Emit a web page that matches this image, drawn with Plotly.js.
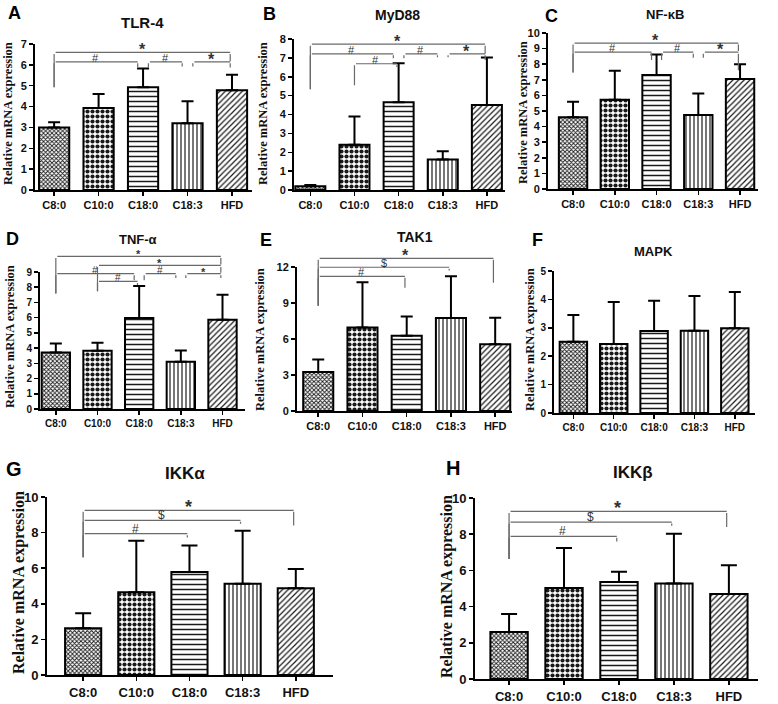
<!DOCTYPE html>
<html><head><meta charset="utf-8">
<script src="https://cdn.plot.ly/plotly-3.0.1.min.js"></script>
<style>html,body{margin:0;padding:0;background:#fff}#c{width:778px;height:704px}</style>
</head><body><div id="c"></div>
<script>
// ---------- data ----------
const categories = ['C8:0','C10:0','C18:0','C18:3','HFD'];

const tlr4Mean  = [3.00, 3.93, 4.93, 3.20, 4.78];
const tlr4Err   = [0.25, 0.67, 0.90, 1.05, 0.74];
const myd88Mean = [0.20, 2.40, 4.65, 1.62, 4.50];
const myd88Err  = [0.06, 1.50, 2.07, 0.43, 2.52];
const nfkbMean  = [4.60, 5.72, 7.30, 4.75, 7.05];
const nfkbErr   = [1.00, 1.86, 1.32, 1.37, 0.95];
const tnfMean   = [3.71, 3.82, 5.98, 3.10, 5.87];
const tnfErr    = [0.59, 0.53, 2.10, 0.74, 1.64];
const tak1Mean  = [3.26, 6.96, 6.28, 7.74, 5.57];
const tak1Err   = [1.03, 3.77, 1.60, 3.48, 2.20];
const mapkMean  = [2.51, 2.43, 2.89, 2.90, 2.98];
const mapkErr   = [0.94, 1.48, 1.06, 1.22, 1.28];
const ikkaMean  = [2.63, 4.65, 5.78, 5.12, 4.88];
const ikkaErr   = [0.84, 2.89, 1.50, 2.98, 1.07];
const ikkbMean  = [2.60, 5.03, 5.36, 5.27, 4.70];
const ikkbErr   = [0.99, 2.21, 0.57, 2.76, 1.58];

// significance brackets: [fromIndex, toIndex, level, symbol, leftLegBottom, rightLegBottom]
const tlr4Sig  = [[0,4,6.63,'*',4.95,6.2],[0,2,6.18,'#',4.95,5.9],[2,3,6.18,'#',5.9,5.95],[3,4,6.18,'*',5.95,5.9]];
const myd88Sig = [[0,4,7.97,'*',5.5,7.45],[0,2,7.44,'#',5.5,7.2],[1,2,6.9,'#',5.73,6.72],[2,3,7.44,'#',7.2,7.25],[3,4,7.44,'*',7.25,7.1]];
const nfkbSig  = [[0,4,9.95,'*',7.95,9.4],[0,2,9.33,'#',7.95,8.8],[2,3,9.33,'#',8.8,8.95],[3,4,9.33,'*',8.95,8.1]];
const tnfSig   = [[0,4,10.02,'*',7.58,9.5],[1,4,9.43,'*',7.73,8.95],[0,2,8.89,'#',7.58,8.45],[1,2,8.38,'#',7.73,8.15],[2,3,8.89,'#',8.45,8.6],[3,4,8.89,'*',8.6,8.6]];
const tak1Sig  = [[0,4,12.72,'*',8.78,10.68],[0,3,11.98,'$',8.78,11.7],[0,2,11.22,'#',8.78,10.27]];
const mapkSig  = [];
const ikkaSig  = [[0,4,9.25,'*',6.62,8.4],[0,3,8.69,'$',6.62,8.5],[0,2,7.94,'#',6.62,7.73]];
const ikkbSig  = [[0,4,9.26,'*',6.63,8.4],[0,3,8.67,'$',6.63,8.47],[0,2,7.88,'#',6.63,7.6]];

// ---------- layout / styling ----------
const W = 778, H = 704;
const SANS = 'Liberation Sans, Arial, sans-serif';
const SERIF = 'Liberation Serif, Times New Roman, serif';

const panels = [
  {letter:'A', title:'TLR-4',  mean:tlr4Mean,  err:tlr4Err,  sig:tlr4Sig,  ymax:7,  dtick:1, L:35,  R:252, T:44,  B:190, xr:[-0.43,4.45], ttl:[142,22], let:[14,13],  yt:[8,114],   fs:11, tfs:15, yfs:12.5, sfs:16, hfs:11},
  {letter:'B', title:'MyD88',  mean:myd88Mean, err:myd88Err, sig:myd88Sig, ymax:8,  dtick:1, L:294, R:505, T:39,  B:190, xr:[-0.37,4.41], ttl:[398,15], let:[269,14], yt:[263,114], fs:11, tfs:14, yfs:12.5, sfs:16, hfs:11},
  {letter:'C', title:'NF-\u03baB', mean:nfkbMean, err:nfkbErr, sig:nfkbSig, ymax:10, dtick:1, L:548, R:758, T:33,  B:189, xr:[-0.6,4.43],  ttl:[665,14], let:[551,16], yt:[523,113], fs:11, tfs:13, yfs:12.5, sfs:16, hfs:11},
  {letter:'D', title:'TNF-\u03b1', mean:tnfMean, err:tnfErr, sig:tnfSig,   ymax:9,  dtick:1, L:40,  R:245, T:272, B:409, xr:[-0.38,4.54], ttl:[138,239], let:[12,239], yt:[10,337], fs:10, tfs:13, yfs:12.5, sfs:11, hfs:10},
  {letter:'E', title:'TAK1',   mean:tak1Mean,  err:tak1Err,  sig:tak1Sig,  ymax:12, dtick:3, L:297, R:512, T:267, B:411, xr:[-0.48,4.38], ttl:[415,237], let:[266,240], yt:[260,340], fs:11, tfs:14, yfs:12.5, sfs:16, hfs:11},
  {letter:'F', title:'MAPK',   mean:mapkMean,  err:mapkErr,  sig:mapkSig,  ymax:5,  dtick:1, L:554, R:755, T:271, B:413, xr:[-0.48,4.5],  ttl:[653,252], let:[537,240], yt:[530,340], fs:10, tfs:13, yfs:12.5, sfs:16, hfs:11},
  {letter:'G', title:'IKK\u03b1', mean:ikkaMean, err:ikkaErr, sig:ikkaSig, ymax:10, dtick:2, L:47,  R:333, T:497, B:675, xr:[-0.68,4.7],  ttl:[185,473], let:[14,469], yt:[19,583], fs:13, tfs:17, yfs:16, sfs:18, hfs:12},
  {letter:'H', title:'IKK\u03b2', mean:ikkbMean, err:ikkbErr, sig:ikkbSig, ymax:10, dtick:2, L:475, R:758, T:498, B:679, xr:[-0.62,4.53], ttl:[633,472], let:[453,468], yt:[447,586], fs:13, tfs:17, yfs:16, sfs:18, hfs:12}
];

const patShape    = ['x', '.', '-', '|', '/'];
const patSize     = [3, 5, 5, 4, 4];
const patSolidity = [0.5, 0.55, 0.3, 0.3, 0.3];

const px = v => v / W, py = v => 1 - v / H;

const data = [];
const layout = {
  width: W, height: H, margin: {l:0, r:0, t:0, b:0},
  paper_bgcolor: '#fff', plot_bgcolor: 'rgba(0,0,0,0)', showlegend: false,
  annotations: []
};

const EXT = 45; // extra pixels above each panel for the bracket overlay
panels.forEach((p, i) => {
  const n = i === 0 ? '' : String(i + 1);
  const xa = 'x' + n, ya = 'y' + n;
  const bn = String(i + 9), bxa = 'x' + bn, bya = 'y' + bn;
  data.push({
    type: 'bar', x: [0,1,2,3,4], y: p.mean, xaxis: xa, yaxis: ya, width: 0.68,
    marker: {color: '#fff', line: {color: '#000', width: 2},
      pattern: {shape: patShape, size: patSize, solidity: patSolidity, fgcolor: '#1a1a1a', bgcolor: '#fff', fillmode: 'replace'}},
    error_y: {type: 'data', symmetric: false, array: p.err, arrayminus: p.mean.map(() => 0),
      color: '#000', thickness: 2, width: p.fs > 12 ? 8 : 6},
    hoverinfo: 'skip'
  });
  // invisible overlay subplot (same scale, taller) carrying the significance brackets
  data.push({type: 'scatter', mode: 'lines', x: [null], y: [null], xaxis: bxa, yaxis: bya, hoverinfo: 'skip'});
  const tf = {family: SANS, size: p.fs, color: '#111', weight: 'bold'};
  layout['xaxis' + n] = {
    domain: [px(p.L), px(p.R)], range: p.xr, anchor: ya,
    showline: true, linecolor: '#000', linewidth: 2, ticks: 'outside', ticklen: 4, tickwidth: 1.5, tickcolor: '#000',
    tickmode: 'array', tickvals: [0,1,2,3,4], ticktext: categories, tickfont: tf,
    showgrid: false, zeroline: false, fixedrange: true
  };
  layout['yaxis' + n] = {
    domain: [py(p.B), py(p.T)], range: [0, p.ymax], anchor: xa,
    showline: true, linecolor: '#000', linewidth: 2, ticks: 'outside', ticklen: 4, tickwidth: 1.5, tickcolor: '#000',
    tick0: 0, dtick: p.dtick, tickfont: tf, showgrid: false, zeroline: false, fixedrange: true
  };
  layout['xaxis' + bn] = {domain: [px(p.L), px(p.R)], range: p.xr, anchor: bya, visible: false, fixedrange: true};
  layout['yaxis' + bn] = {domain: [py(p.B), py(p.T - EXT)], range: [0, p.ymax * (p.B - p.T + EXT) / (p.B - p.T)],
    anchor: bxa, visible: false, fixedrange: true};

  const A = layout.annotations;
  A.push({xref:'paper', yref:'paper', x:px(p.ttl[0]), y:py(p.ttl[1]), text:'<b>'+p.title+'</b>', showarrow:false,
    font:{family:SANS, size:p.tfs, color:'#111'}, xanchor:'center', yanchor:'middle'});
  A.push({xref:'paper', yref:'paper', x:px(p.let[0]), y:py(p.let[1]), text:'<b>'+p.letter+'</b>', showarrow:false,
    font:{family:SANS, size:p.fs > 12 ? 20 : 18, color:'#000'}, xanchor:'center', yanchor:'middle'});
  A.push({xref:'paper', yref:'paper', x:px(p.yt[0]), y:py(p.yt[1]), text:'<b>Relative mRNA expression</b>', showarrow:false,
    textangle:-90, font:{family:SERIF, size:p.yfs, color:'#111'}, xanchor:'center', yanchor:'middle'});

  const seg = (x0, y0, x1, y1) => A.push({xref:bxa, yref:bya, axref:bxa, ayref:bya, x:x1, y:y1, ax:x0, ay:y0,
    text:'', showarrow:true, arrowhead:0, arrowwidth:1.2, arrowcolor:'#6a6a6a', standoff:0, startstandoff:0});
  p.sig.forEach(s => {
    const [a, b, lev, sym, la, lb] = s;
    const shareLeft = p.sig.some(t => t !== s && t[1] === a && Math.abs(t[2] - lev) < 0.05);
    const shareRight = p.sig.some(t => t !== s && t[0] === b && Math.abs(t[2] - lev) < 0.05);
    const x1 = a + (shareLeft ? 0.12 : 0);
    const x2 = b - (shareRight ? 0.12 : 0.04);
    seg(x1, lev, x2, lev);
    seg(x1, lev, x1, la);
    seg(x2, lev, x2, lb);
    const star = sym === '*';
    const label = star ? '<b>*</b>' : (sym === '$' ? '&#36;' : sym);
    A.push({xref:bxa, yref:bya, x:(x1 + x2) / 2, y:lev, text: label, showarrow:false,
      xanchor:'center', yanchor:'bottom', yshift: star ? -Math.round(p.sfs * 0.5) : -4,
      font:{family:SANS, size: star ? p.sfs : p.hfs, color:'#333'}});
  });
});

Plotly.newPlot('c', data, layout, {staticPlot: true});
</script></body></html>
